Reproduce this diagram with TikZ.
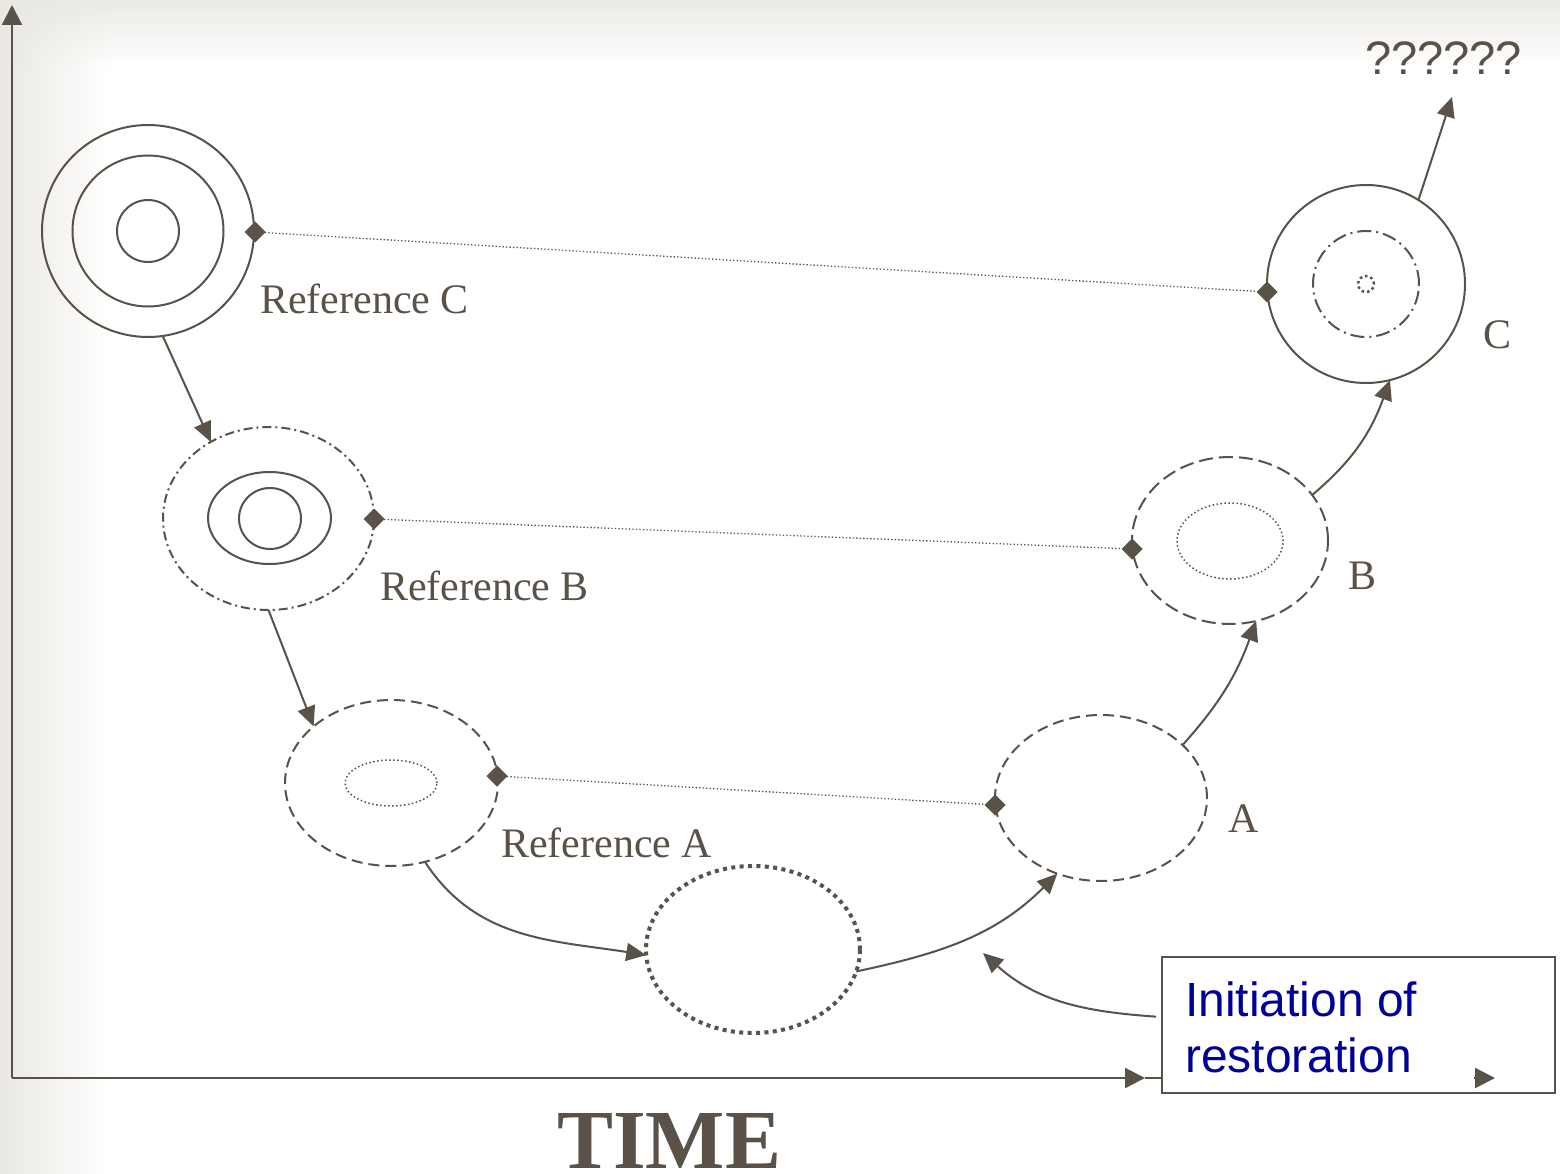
\documentclass[tikz,border=0pt]{standalone}
\usepackage{fontspec}
\setmainfont{Liberation Serif}
\newfontfamily\arialfont{Liberation Sans}
\usetikzlibrary{arrows.meta,shapes.geometric}

\definecolor{ink}{HTML}{5A5248}
\definecolor{navy}{HTML}{000099}
\definecolor{bggray}{HTML}{EAE8E3}

\tikzset{
  >={Triangle[length=20pt,width=18pt]},
  ell/.style 2 args={ellipse, draw=ink, line width=2pt, inner sep=0pt,
    outer sep=0pt, minimum width=#1, minimum height=#2},
  dashdotA/.style={dash pattern=on 9pt off 4pt on 2pt off 4pt},
  dashdotB/.style={dash pattern=on 14pt off 5pt on 2pt off 5pt},
  dashedA/.style={dash pattern=on 11pt off 6pt},
  dashedB/.style={dash pattern=on 14pt off 6pt},
  finedots/.style={line width=1.5pt, dash pattern=on 1.5pt off 2.5pt},
  heavydots/.style={line width=4pt, dash pattern=on 4pt off 4.4pt},
  tinydots/.style={line width=2.5pt, dash pattern=on 2.5pt off 3pt},
  conn/.style={draw=ink, line width=2pt, ->},
  axis/.style={draw=ink, line width=2.2pt, >={Triangle[length=20pt,width=20pt]}},
  link/.style={draw=ink, line width=1.3pt, dash pattern=on 1.3pt off 2.2pt},
  marker/.style={diamond, fill=ink, inner sep=0pt, outer sep=0pt, minimum size=21pt},
  lbl/.style={text=ink, font=\fontsize{42}{48}\selectfont, anchor=base west, inner sep=0pt},
}

\begin{document}
\begin{tikzpicture}[x=1pt, y=-1pt]
\useasboundingbox (0,0) rectangle (1560,1174);

% paper background with soft grey edges
\fill[white] (0,0) rectangle (1560,1174);
\shade[left color=bggray, right color=white] (0,0) rectangle (110,1174);
\foreach \i in {0,...,21}{
  \pgfmathsetmacro\op{0.9*(1-\i/22)}
  \fill[bggray, fill opacity=\op] (0,\i*3) rectangle (1560,\i*3+3);
}

% axes
\coordinate (O) at (12,1078);
\coordinate (ytop) at (12,5);
\coordinate (xend) at (1145,1078);
\draw[axis, ->] (O) -- (ytop);
\draw[axis, ->] (O) -- (xend);

% note box
\node[draw=ink, line width=2pt, fill=white, inner sep=0pt,
      minimum width=393pt, minimum height=136pt] (init) at (1358.5,1025) {};
\draw[axis] (xend) -- (init.west |- xend);
\coordinate (p1) at (1474,1078);
\coordinate (p2) at (1495,1078);
\draw[axis, ->] (p1) -- (p2);
\node[anchor=base west, align=left, text=navy, inner sep=0pt,
      font=\arialfont\fontsize{48}{56}\selectfont] (initTxt) at (1185,1072)
      {Initiation of\\restoration};

% reference states
\node[ell={212pt}{212pt}] (refC) at (148,231) {};
\node[ell={151pt}{151pt}] (refCmid) at (148,231) {};
\node[ell={62pt}{62pt}] (refCin) at (148,231) {};

\node[ell={211pt}{183pt}, dashdotA] (refB) at (268.5,518.5) {};
\node[ell={123pt}{92pt}] (refBmid) at (269.5,518) {};
\node[ell={62pt}{61pt}] (refBin) at (270,518.5) {};

\node[ell={213pt}{166pt}, dashedA] (refA) at (391.5,783) {};
\node[ell={92pt}{46pt}, finedots] (refAin) at (391,783) {};

% degraded state
\node[ell={214pt}{167pt}, heavydots] (low) at (753,949.5) {};

% restored states
\node[ell={212pt}{166pt}, dashedA] (stA) at (1101,798) {};
\node[ell={196pt}{167pt}, dashedB] (stB) at (1230,540.5) {};
\node[ell={106pt}{76pt}, finedots] (stBin) at (1230,541) {};
\node[ell={198pt}{198pt}] (stC) at (1366,284) {};
\node[ell={106pt}{106pt}, dashdotB] (stCmid) at (1366,284) {};
\node[ell={16pt}{16pt}, tinydots] (stCin) at (1366,284) {};

% comparison links
\node[marker] (dC1) at (255,232) {};
\node[marker] (dC2) at (1267,292) {};
\node[marker] (dB1) at (374,519) {};
\node[marker] (dB2) at (1132,549) {};
\node[marker] (dA1) at (497,776) {};
\node[marker] (dA2) at (995,805) {};
\draw[link] (dC1) -- (dC2);
\draw[link] (dB1) -- (dB2);
\draw[link] (dA1) -- (dA2);

% trajectory
\draw[conn] (refC.278) -- (refB.127);
\draw[conn] (refB.270) -- (refA.144);
\draw[conn] (refA.293) to[out=-57, in=171] (low.183);
\draw[conn] (low.348) to[out=12, in=225] (stA.240);
\draw[conn] (stA.33) to[out=48, in=250] (stB.288);
\draw[conn] (stB.29) to[out=40, in=250] (stC.284);
\coordinate (q) at (1452,97);
\draw[conn] (stC.58) -- (q);
\coordinate (cue) at (983,953);
\draw[conn, shorten <=5pt] ([yshift=8pt]init.west) to[out=176, in=-42] (cue);

% labels
\node[lbl] (lC) at (260,313) {Reference C};
\node[lbl] (lB) at (380,600) {Reference B};
\node[lbl] (lA) at (501,857) {Reference A};
\node[lbl] (sC) at (1483,348) {C};
\node[lbl] (sB) at (1348,589) {B};
\node[lbl] (sA) at (1228,832) {A};
\node[anchor=base west, text=ink, inner sep=0pt,
      font=\arialfont\fontsize{47}{50}\selectfont] (unk) at (1365,75) {??????};
\node[anchor=base west, text=ink, inner sep=0pt,
      font=\bfseries\fontsize{84}{90}\selectfont] (time) at (557,1168) {TIME};
\end{tikzpicture}
\end{document}
